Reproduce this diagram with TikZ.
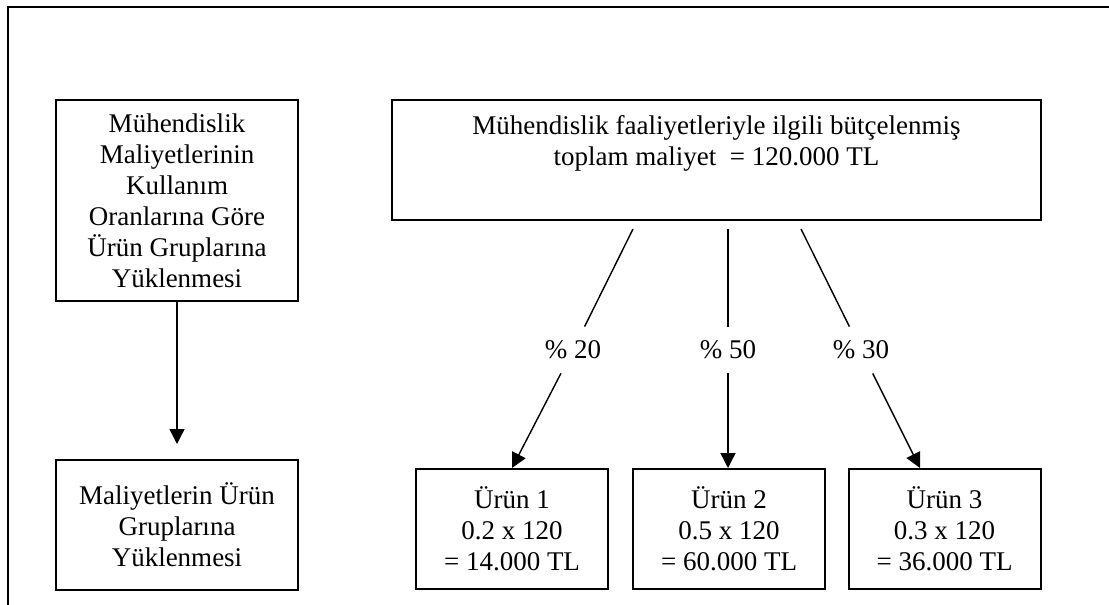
\documentclass[tikz,border=0pt]{standalone}
\usepackage{fontspec}
\setmainfont{Liberation Serif}
\usetikzlibrary{arrows.meta, positioning}

\tikzset{
  box/.style={draw, line width=1pt, align=center, inner sep=0pt},
  pct/.style={inner sep=0pt, minimum width=27pt, minimum height=23pt},
  link/.style={line width=0.7pt},
  arr/.style={link, -{Triangle[length=7.5pt, width=7.5pt]}}
}

\begin{document}
\begin{tikzpicture}[x=0.5pt, y=-0.5pt, font=\fontsize{13.5}{15.5}\selectfont]
  \useasboundingbox (0,0) rectangle (1109,605);
  % Frame
  \draw[line width=1pt] (8.3,605) -- (8.3,6.7) -- (1109,6.7);

  % Left column
  \node[box, minimum width=121pt, minimum height=100.5pt] (kural) at (177,200.5)
    {Mühendislik\\Maliyetlerinin\\Kullanım\\Oranlarına Göre\\Ürün Gruplarına\\Yüklenmesi};
  \node[box, minimum width=121pt, minimum height=65pt] (yukleme) at (177,525)
    {Maliyetlerin Ürün\\Gruplarına\\Yüklenmesi};
  \draw[arr] (kural) -- ([yshift=7.5pt]yukleme.north);

  % Budget box
  \node[box, minimum width=324.5pt, minimum height=60pt] (toplam) at (716.5,160) {};
  \node[align=center, inner sep=0pt] (toplamyazi) at (716.5,143.5)
    {Mühendislik faaliyetleriyle ilgili bütçelenmiş\\toplam maliyet\ \ = 120.000 TL};

  % Products
  \node[box, minimum width=96pt, minimum height=60pt] (urun1) at (512,529)
    {Ürün 1\\0.2 x 120\\= 14.000 TL};
  \node[box, minimum width=96pt, minimum height=60pt] (urun2) at (729,529)
    {Ürün 2\\0.5 x 120\\= 60.000 TL};
  \node[box, minimum width=96pt, minimum height=60pt] (urun3) at (944.5,529)
    {Ürün 3\\0.3 x 120\\= 36.000 TL};

  % Shares
  \coordinate (c1) at (633,229);
  \coordinate (c2) at (728,229);
  \coordinate (c3) at (801,229);
  \node[pct] (p20) at (573,350) {\% 20};
  \node[pct] (p50) at (728,350) {\% 50};
  \node[pct] (p30) at (861,350) {\% 30};

  \draw[link] (c1) -- (p20);
  \draw[arr] (p20) -- (urun1.north);
  \draw[link] (c2) -- (p50);
  \draw[arr] (p50) -- ([xshift=-0.5pt]urun2.north);
  \draw[link] (c3) -- (p30);
  \draw[arr] (p30) -- ([xshift=-12.25pt]urun3.north);
\end{tikzpicture}
\end{document}
